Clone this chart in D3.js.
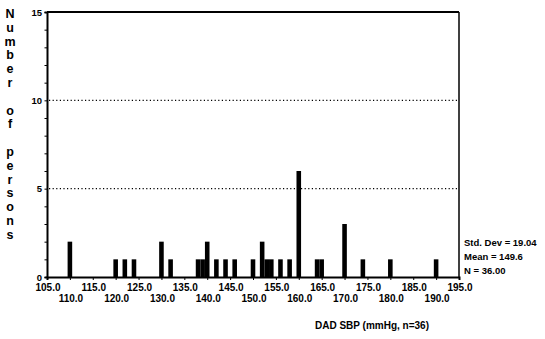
<!DOCTYPE html>
<html>
<head>
<meta charset="utf-8">
<script src="https://cdn.jsdelivr.net/npm/d3@7"></script>
<style>
  body { margin: 0; background: #fff; }
  text { font-family: "Liberation Sans", Arial, sans-serif; fill: #000; }
</style>
</head>
<body>
<div id="chart"></div>
<script>
// DAD systolic blood pressure histogram
const sbpValues = [110, 120, 122, 124, 130, 132, 138, 139, 140, 142, 144, 146, 150,
                   152, 153, 154, 156, 158, 160, 164, 165, 170, 174, 180, 190];
const personCounts = [2, 1, 1, 1, 2, 1, 1, 1, 2, 1, 1, 1, 1,
                      2, 1, 1, 1, 1, 6, 1, 1, 3, 1, 1, 1];
const xTicksTop = [105, 115, 125, 135, 145, 155, 165, 175, 185, 195];
const xTicksBottom = [110, 120, 130, 140, 150, 160, 170, 180, 190];
const yTicks = [0, 5, 10, 15];
const gridLines = [5, 10];
const statLines = ["Std. Dev = 19.04", "Mean = 149.6", "N = 36.00"];
const yTitle = "Number of persons";
const xTitle = "DAD SBP (mmHg, n=36)";

const width = 545, height = 339;
const plotLeft = 47, plotRight = 459, plotTop = 12, plotBottom = 277;

const svg = d3.select("#chart").append("svg")
    .attr("width", width)
    .attr("height", height);

const x = d3.scaleLinear().domain([105, 195]).range([plotLeft, plotRight]);
const y = d3.scaleLinear().domain([0, 15]).range([plotBottom, plotTop]);

const data = sbpValues.map((v, i) => ({ v: v, n: personCounts[i] }));

// dotted grid lines
svg.selectAll(".grid")
    .data(gridLines)
    .enter()
    .append("line")
    .attr("x1", plotLeft + 2)
    .attr("x2", plotRight - 1)
    .attr("y1", d => y(d))
    .attr("y2", d => y(d))
    .attr("stroke", "#000")
    .attr("stroke-width", 1.2)
    .attr("stroke-dasharray", "1.2,2.4");

// bars, centred on each value, one unit wide
const unit = x(106) - x(105);
svg.selectAll(".bar")
    .data(data)
    .enter()
    .append("rect")
    .attr("x", d => x(d.v) - unit / 2)
    .attr("width", unit)
    .attr("y", d => y(d.n))
    .attr("height", d => y(0) - y(d.n))
    .attr("fill", "#000");

// frame
svg.append("line").attr("x1", plotLeft).attr("x2", plotRight).attr("y1", plotTop).attr("y2", plotTop)
    .attr("stroke", "#000").attr("stroke-width", 2);
svg.append("line").attr("x1", plotRight).attr("x2", plotRight).attr("y1", plotTop).attr("y2", plotBottom)
    .attr("stroke", "#000").attr("stroke-width", 1.5);

// y axis with minor ticks
const yAxis = d3.axisLeft(y)
    .tickValues(d3.range(0, 16))
    .tickSize(2.5)
    .tickFormat(d => yTicks.includes(d) ? d : "");
const gy = svg.append("g").attr("transform", `translate(${plotLeft},0)`).call(yAxis);
gy.select(".domain").attr("stroke-width", 2);
gy.selectAll("text")
    .attr("font-size", "9.5px")
    .attr("font-weight", "bold")
    .attr("x", -5)
    .attr("font-family", "Liberation Sans, Arial, sans-serif");

// x axis
const xAxis = d3.axisBottom(x)
    .tickValues(d3.range(105, 196, 5))
    .tickSize(3)
    .tickFormat("");
const gx = svg.append("g").attr("transform", `translate(0,${plotBottom})`).call(xAxis);
gx.select(".domain").attr("stroke-width", 2);

svg.selectAll(".xlab-top")
    .data(xTicksTop)
    .enter()
    .append("text")
    .attr("x", d => x(d) + 1)
    .attr("y", 291)
    .attr("text-anchor", "middle")
    .attr("font-size", "10px")
    .attr("font-weight", "bold")
    .text(d => d.toFixed(1));

svg.selectAll(".xlab-bottom")
    .data(xTicksBottom)
    .enter()
    .append("text")
    .attr("x", d => x(d) + 1)
    .attr("y", 302)
    .attr("text-anchor", "middle")
    .attr("font-size", "10px")
    .attr("font-weight", "bold")
    .text(d => d.toFixed(1));

// stacked y title
const letters = yTitle.split("");
svg.selectAll(".ytitle")
    .data(letters)
    .enter()
    .append("text")
    .attr("x", 10)
    .attr("y", (d, i) => 14 + i * 13.8)
    .attr("text-anchor", "middle")
    .attr("dominant-baseline", "central")
    .attr("font-size", "12.5px")
    .attr("font-weight", "bold")
    .text(d => d);

// statistics
svg.selectAll(".stat")
    .data(statLines)
    .enter()
    .append("text")
    .attr("x", 464)
    .attr("y", (d, i) => 246 + i * 14)
    .attr("font-size", "9.5px")
    .attr("font-weight", "bold")
    .text(d => d);

// x title
svg.append("text")
    .attr("x", 315)
    .attr("y", 329)
    .attr("font-size", "10px")
    .attr("font-weight", "bold")
    .text(xTitle);
</script>
</body>
</html>
